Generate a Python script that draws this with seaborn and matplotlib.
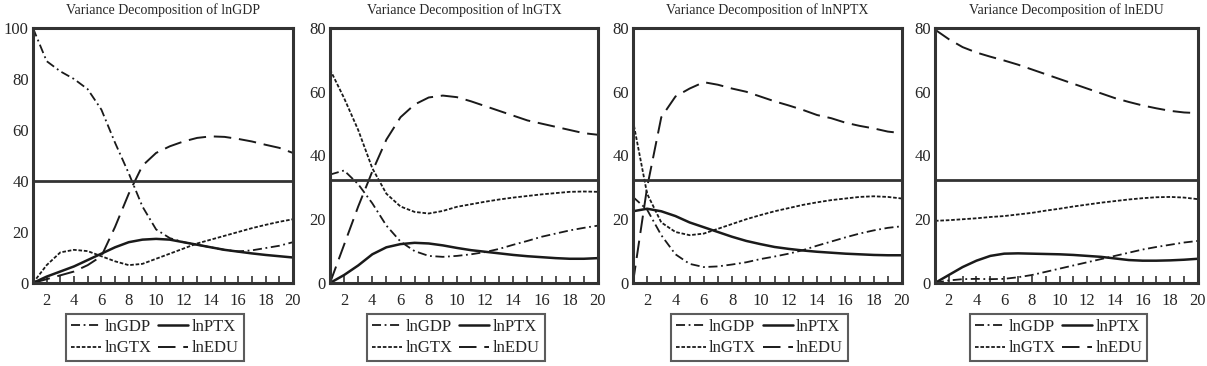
import numpy as np
import pandas as pd
import matplotlib
matplotlib.use("Agg")
import matplotlib.pyplot as plt
import seaborn as sns
from matplotlib.ticker import MultipleLocator

sns.set_theme(style="white")
plt.rcParams["font.family"] = ["Liberation Serif", "DejaVu Serif"]

periods = list(range(1, 21))

# Variance decomposition of lnGDP
gdp_gdp = [100, 87, 83, 80, 76, 68, 55, 43, 30, 21, 17.6, 16, 15, 14, 13, 12.4, 12.8, 13.7, 14.6, 16]
gdp_gtx = [0, 7, 12, 13, 12.5, 10.5, 8.5, 7, 7.5, 9.5, 11.5, 13.5, 15.5, 17, 18.5, 20, 21.5, 22.8, 24, 25]
gdp_ptx = [0, 2.5, 4.5, 6.5, 9, 11.5, 14, 16, 17, 17.3, 17, 16, 15, 14, 13, 12.3, 11.6, 11, 10.5, 10]
gdp_edu = [0, 1.5, 3, 4.5, 7, 10.5, 22, 35, 46, 51, 53.6, 55.5, 56.9, 57.5, 57.3, 56.5, 55.5, 54.2, 53, 51]

# Variance decomposition of lnGTX
gtx_gdp = [34, 35.3, 31, 25, 18, 13, 10, 8.5, 8.2, 8.5, 9, 9.7, 10.7, 12, 13.2, 14.5, 15.5, 16.5, 17.3, 18]
gtx_gtx = [67, 58, 48, 36, 28, 24, 22.3, 21.8, 22.6, 23.9, 24.7, 25.5, 26.2, 26.8, 27.3, 27.8, 28.2, 28.6, 28.7, 28.6]
gtx_ptx = [0, 2.5, 5.5, 9, 11.2, 12.2, 12.6, 12.4, 11.8, 11, 10.3, 9.8, 9.3, 8.8, 8.4, 8.1, 7.8, 7.6, 7.6, 7.8]
gtx_edu = [0, 12, 24, 35, 45, 52, 56, 58.2, 58.8, 58.3, 57, 55.5, 54, 52.5, 51, 50, 49, 48, 47, 46.5]

# Variance decomposition of lnNPTX
nptx_gdp = [27, 23, 15, 9, 6, 5, 5.2, 5.8, 6.5, 7.5, 8.3, 9.2, 10.3, 11.7, 13, 14.3, 15.5, 16.5, 17.3, 17.8]
nptx_gtx = [51, 28, 19, 16, 15, 15.5, 17, 18.5, 20, 21.3, 22.5, 23.5, 24.5, 25.3, 26, 26.5, 27, 27.2, 27, 26.5]
nptx_ptx = [22.5, 23.3, 22.5, 21, 19, 17.5, 16, 14.5, 13.2, 12.2, 11.3, 10.7, 10.2, 9.8, 9.5, 9.2, 9, 8.8, 8.7, 8.7]
nptx_edu = [0, 30, 52, 58.5, 61, 63, 62.2, 61, 60, 58.5, 57, 55.7, 54.3, 52.7, 51.7, 50.3, 49.3, 48.5, 47.5, 47]

# Variance decomposition of lnEDU
edu_gdp = [0, 0.8, 1.2, 1.3, 1.2, 1.3, 1.8, 2.5, 3.5, 4.5, 5.5, 6.5, 7.5, 8.5, 9.5, 10.5, 11.3, 12, 12.7, 13.2]
edu_gtx = [19.5, 19.7, 20, 20.3, 20.7, 21, 21.5, 22, 22.7, 23.3, 24, 24.6, 25.2, 25.7, 26.2, 26.6, 26.9, 27, 26.8, 26.3]
edu_ptx = [0, 2.5, 5, 7, 8.5, 9.2, 9.3, 9.2, 9.1, 9, 8.8, 8.5, 8.2, 7.7, 7.2, 7, 7, 7.1, 7.3, 7.6]
edu_edu = [79.5, 76.5, 74, 72.3, 71, 69.8, 68.5, 67, 65.5, 64, 62.5, 61, 59.5, 58, 56.8, 55.7, 54.8, 54, 53.5, 53.3]

titles = ["Variance Decomposition of lnGDP", "Variance Decomposition of lnGTX",
          "Variance Decomposition of lnNPTX", "Variance Decomposition of lnEDU"]
panels = [
    (gdp_gdp, gdp_gtx, gdp_ptx, gdp_edu),
    (gtx_gdp, gtx_gtx, gtx_ptx, gtx_edu),
    (nptx_gdp, nptx_gtx, nptx_ptx, nptx_edu),
    (edu_gdp, edu_gtx, edu_ptx, edu_edu),
]
y_max = [100, 80, 80, 80]
ref_line = [40, 32.3, 32.3, 32.3]

series_names = ["lnGDP", "lnGTX", "lnPTX", "lnEDU"]
styles = {
    "lnGDP": dict(linestyle=(0, (5, 2, 1, 2)), linewidth=1.3),
    "lnGTX": dict(linestyle=(0, (2, 1)), linewidth=1.3),
    "lnPTX": dict(linestyle="-", linewidth=1.8),
    "lnEDU": dict(linestyle=(0, (9, 4)), linewidth=1.4),
}
ink = "#1a1a1a"

fig = plt.figure(figsize=(12.07, 3.66), dpi=100)
lefts = [0.0273, 0.2734, 0.5244, 0.7746]
widths = [0.2154, 0.222, 0.2229, 0.2179]

for i, (title, data) in enumerate(zip(titles, panels)):
    ax = fig.add_axes([lefts[i], 0.2268, widths[i], 0.6967])
    for name, vals in zip(series_names, data):
        sns.lineplot(x=periods, y=vals, ax=ax, color=ink, label=name, **styles[name])
    ax.axhline(ref_line[i], color="#333333", linewidth=2.0)
    ax.set_xlim(1, 20)
    ax.set_ylim(0, y_max[i])
    ax.set_xticks(range(2, 21, 2))
    ax.xaxis.set_minor_locator(MultipleLocator(1))
    ax.set_yticks(range(0, y_max[i] + 1, 20))
    ax.tick_params(axis="x", which="both", direction="in", length=5, width=1.2,
                   color="#333333", bottom=True, labelsize=12, pad=7)
    ax.tick_params(axis="y", length=0, labelsize=12, pad=3)
    for sp in ax.spines.values():
        sp.set_color("#333333")
        sp.set_linewidth(2.2)
    ax.set_title(title, fontsize=10, pad=10)
    ax.set_xlabel("")
    ax.set_ylabel("")
    handles, labels = ax.get_legend_handles_labels()
    leg = ax.legend(handles, labels, ncol=2, loc="upper center",
                    bbox_to_anchor=(0.47, -0.12), fontsize=12, frameon=True,
                    fancybox=False, edgecolor="#333333", handlelength=1.8,
                    handletextpad=0.2, columnspacing=0.4, labelspacing=0.35,
                    borderpad=0.3, borderaxespad=0)
    leg.get_frame().set_linewidth(1.5)

fig.savefig("out.png", dpi=100)
